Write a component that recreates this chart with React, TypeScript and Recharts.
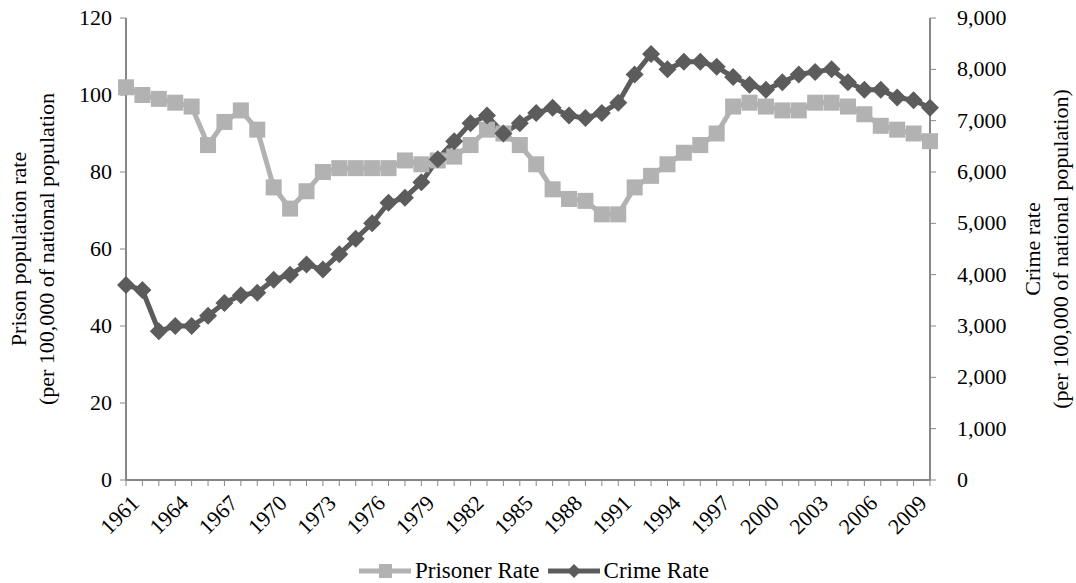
import React from "react";
import { LineChart, Line, XAxis, YAxis } from "recharts";

const years = [
  1961, 1962, 1963, 1964, 1965, 1966, 1967, 1968, 1969, 1970,
  1971, 1972, 1973, 1974, 1975, 1976, 1977, 1978, 1979, 1980,
  1981, 1982, 1983, 1984, 1985, 1986, 1987, 1988, 1989, 1990,
  1991, 1992, 1993, 1994, 1995, 1996, 1997, 1998, 1999, 2000,
  2001, 2002, 2003, 2004, 2005, 2006, 2007, 2008, 2009, 2010,
];

const prisonerRate = [
  102, 100, 99, 98, 97, 87, 93, 96, 91, 76,
  70.5, 75, 80, 81, 81, 81, 81, 83, 82, 83,
  84, 87, 91, 90, 87, 82, 75.5, 73, 72.5, 69,
  69, 76, 79, 82, 85, 87, 90, 97, 98, 97,
  96, 96, 98, 98, 97, 95, 92, 91, 90, 88,
];

const crimeRate = [
  3800, 3700, 2900, 3000, 3000, 3200, 3450, 3600, 3650, 3900,
  4000, 4200, 4100, 4400, 4700, 5000, 5400, 5500, 5800, 6250,
  6600, 6950, 7100, 6750, 6950, 7150, 7250, 7100, 7050, 7150,
  7350, 7900, 8300, 8000, 8150, 8150, 8050, 7850, 7700, 7600,
  7750, 7900, 7950, 8000, 7750, 7600, 7600, 7450, 7400, 7250,
];

const leftTicks = [0, 20, 40, 60, 80, 100, 120];
const rightTicks = [0, 1000, 2000, 3000, 4000, 5000, 6000, 7000, 8000, 9000];

const data = years.map((y, i) => ({
  year: String(y),
  prisoner: prisonerRate[i],
  crime: crimeRate[i],
}));

const PRISON_COLOR = "#b2b2b2";
const CRIME_COLOR = "#5c5c5c";
const AXIS_COLOR = "#878787";
const FONT = "Liberation Serif";
const FS = 22;

const SquareDot = (props: any) => {
  const { cx, cy } = props;
  if (cx == null || cy == null) return <g />;
  const s = 16;
  return <rect x={cx - s / 2} y={cy - s / 2} width={s} height={s} fill={PRISON_COLOR} />;
};

const DiamondDot = (props: any) => {
  const { cx, cy } = props;
  if (cx == null || cy == null) return <g />;
  const r = 9;
  return (
    <polygon
      points={`${cx},${cy - r} ${cx + r},${cy} ${cx},${cy + r} ${cx - r},${cy}`}
      fill={CRIME_COLOR}
    />
  );
};

const YTickLeft = (props: any) => {
  const { x, y, payload } = props;
  return (
    <text x={x - 6} y={y} dy={7} textAnchor="end" style={{ fontSize: FS, fontFamily: FONT }} fill="#000">
      {payload.value}
    </text>
  );
};

const YTickRight = (props: any) => {
  const { x, y, payload } = props;
  return (
    <text x={x + 19} y={y} dy={7} textAnchor="start" style={{ fontSize: FS, fontFamily: FONT }} fill="#000">
      {Number(payload.value).toLocaleString("en-US")}
    </text>
  );
};

const XTick = (props: any) => {
  const { x, y, payload, index } = props;
  if (index % 3 !== 0) return <g />;
  return (
    <g transform={`translate(${x + 6},${y + 8})`}>
      <text
        x={0}
        y={0}
        dy={12}
        textAnchor="end"
        transform="rotate(-45)"
        style={{ fontSize: FS, fontFamily: FONT }}
        fill="#000"
      >
        {payload.value}
      </text>
    </g>
  );
};

const LegendBlock = () => {
  const items = [
    { label: "Prisoner Rate", color: PRISON_COLOR, shape: "square" },
    { label: "Crime Rate", color: CRIME_COLOR, shape: "diamond" },
  ];
  return (
    <div
      style={{
        position: "absolute",
        left: 0,
        top: 558,
        width: 1076,
        display: "flex",
        justifyContent: "center",
        alignItems: "center",
        fontFamily: FONT,
        fontSize: 23,
        color: "#000",
        lineHeight: "26px",
      }}
    >
      {items.map((it) => (
        <div key={it.label} style={{ display: "flex", alignItems: "center", marginRight: 8 }}>
          <svg width={52} height={18} style={{ marginRight: 4 }}>
            <line x1={0} y1={9} x2={52} y2={9} stroke={it.color} strokeWidth={5} />
            {it.shape === "square" ? (
              <rect x={20} y={2} width={13} height={14} fill={it.color} />
            ) : (
              <polygon points="26,2 33,9 26,16 19,9" fill={it.color} />
            )}
          </svg>
          <span>{it.label}</span>
        </div>
      ))}
    </div>
  );
};

const Titles = () => (
  <svg
    width={1076}
    height={583}
    style={{ position: "absolute", left: 0, top: 0, pointerEvents: "none" }}
  >
    <text transform="translate(26,249) rotate(-90)" textAnchor="middle" style={{ fontSize: FS, fontFamily: FONT }} fill="#000">
      Prison population  rate
    </text>
    <text transform="translate(54,249) rotate(-90)" textAnchor="middle" style={{ fontSize: FS, fontFamily: FONT }} fill="#000">
      (per 100,000 of national population
    </text>
    <text transform="translate(1040,249) rotate(-90)" textAnchor="middle" style={{ fontSize: FS, fontFamily: FONT }} fill="#000">
      Crime rate
    </text>
    <text transform="translate(1068,249) rotate(-90)" textAnchor="middle" style={{ fontSize: FS, fontFamily: FONT }} fill="#000">
      (per 100,000 of national population)
    </text>
  </svg>
);

export default function App() {
  return (
    <div style={{ position: "absolute", left: 0, top: 0, width: 1076, height: 583, background: "#fff" }}>
      <LineChart
        width={1076}
        height={583}
        data={data}
        margin={{ top: 18, right: 56, bottom: 26, left: 66 }}
      >
        <XAxis
          dataKey="year"
          interval={0}
          tick={<XTick />}
          tickLine={{ stroke: AXIS_COLOR }}
          tickSize={6}
          axisLine={{ stroke: AXIS_COLOR, strokeWidth: 2 }}
          stroke={AXIS_COLOR}
          height={77}
          padding={{ left: 0, right: 0 }}
        />
        <YAxis
          yAxisId="left"
          domain={[0, 120]}
          ticks={leftTicks}
          width={60}
          tickSize={6}
          tick={<YTickLeft />}
          axisLine={{ stroke: AXIS_COLOR, strokeWidth: 2 }}
          tickLine={{ stroke: AXIS_COLOR }}
        />
        <YAxis
          yAxisId="right"
          orientation="right"
          domain={[0, 9000]}
          ticks={rightTicks}
          width={90}
          tickSize={6}
          tick={<YTickRight />}
          axisLine={{ stroke: AXIS_COLOR, strokeWidth: 2 }}
          tickLine={{ stroke: AXIS_COLOR }}
        />
        <Line
          yAxisId="left"
          dataKey="prisoner"
          name="Prisoner Rate"
          stroke={PRISON_COLOR}
          strokeWidth={5}
          dot={<SquareDot />}
          activeDot={false}
          isAnimationActive={false}
        />
        <Line
          yAxisId="right"
          dataKey="crime"
          name="Crime Rate"
          stroke={CRIME_COLOR}
          strokeWidth={5}
          dot={<DiamondDot />}
          activeDot={false}
          isAnimationActive={false}
        />
      </LineChart>
      <Titles />
      <LegendBlock />
    </div>
  );
}
